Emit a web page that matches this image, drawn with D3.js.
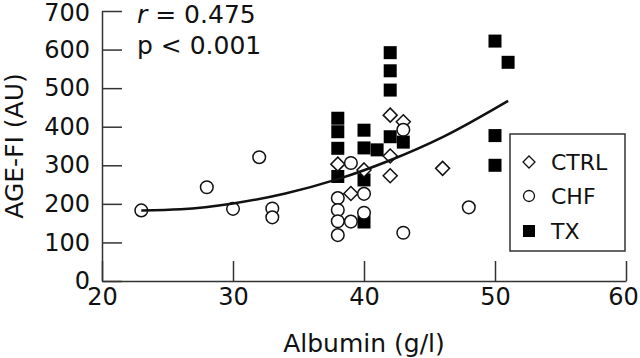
<!DOCTYPE html>
<meta charset="utf-8">
<style>
  body { margin: 0; background: #fff; }
  svg { font-family: "DejaVu Sans", sans-serif; }
  .axis path, .axis line { stroke: #333; stroke-width: 1.5px; }
  .axis text { font-size: 24px; fill: #111; font-family: "DejaVu Sans", sans-serif; }
  .title { font-size: 25px; fill: #111; }
  .fit { fill: none; stroke: #111; stroke-width: 2.5px; }
  .legend text { font-size: 22px; fill: #111; }
</style>
<script src="https://cdn.jsdelivr.net/npm/d3@7"></script>
<svg id="chart" width="640" height="358"></svg>
<script>
// values
var ctrlX = [38, 39, 40, 42, 42, 42, 43, 46];
var ctrlY = [303, 227, 288, 430, 324, 273, 413, 292];

var chfX = [23, 28, 30, 32, 33, 33, 38, 38, 38, 38, 39, 39, 40, 40, 43, 43, 48];
var chfY = [183, 243, 187, 321, 188, 165, 215, 184, 155, 119, 306, 154, 226, 177, 392, 125, 191];

var txX = [38, 38, 38, 38, 40, 40, 40, 40, 41, 42, 42, 42, 42, 43, 50, 50, 50, 51];
var txY = [422, 387, 344, 271, 391, 345, 262, 153, 340, 592, 545, 495, 374, 360, 622, 377, 300, 567];

// regression curve, read at a few points
var fitX = [23, 26, 30, 34, 38, 42, 46, 51];
var fitY = [183, 186, 201, 227, 264, 313, 373, 467];

var xTicks = [20, 30, 40, 50, 60];
var yTicks = [0, 100, 200, 300, 400, 500, 600, 700];
var groups = ["CTRL", "CHF", "TX"];

var svg = d3.select("#chart");
var x = d3.scaleLinear().domain([20, 60]).range([102, 626]);
var y = d3.scaleLinear().domain([0, 700]).range([281, 11]);

var xAxis = svg.append("g").attr("class", "axis")
  .attr("transform", "translate(0,281)")
  .call(d3.axisBottom(x).tickValues(xTicks).tickSizeInner(-20).tickSizeOuter(0).tickPadding(7));
// last label sits against the right edge
xAxis.selectAll(".tick text").filter(function(d) { return d === 60; }).attr("dx", -3);

var yAxis = svg.append("g").attr("class", "axis")
  .attr("transform", "translate(102,0)")
  .call(d3.axisLeft(y).tickValues(yTicks).tickSizeInner(-20).tickSizeOuter(0).tickPadding(12));
yAxis.selectAll(".tick text").filter(function(d) { return d === 700; }).attr("dy", "0.4em");

svg.append("text").attr("class", "title")
  .attr("x", 364).attr("y", 352).attr("text-anchor", "middle")
  .text("Albumin (g/l)");
svg.append("text").attr("class", "title")
  .attr("transform", "translate(23,146) rotate(-90)").attr("text-anchor", "middle")
  .text("AGE-FI (AU)");

var stat = svg.append("text").attr("class", "title").attr("x", 137).attr("y", 23);
stat.append("tspan").attr("font-style", "italic").text("r");
stat.append("tspan").text(" = 0.475");
svg.append("text").attr("class", "title").attr("x", 137).attr("y", 54).text("p < 0.001");

function zip(xs, ys) { return xs.map(function(v, i) { return [v, ys[i]]; }); }

var diamond = function(s) { return "M0," + (-s) + "L" + s + ",0L0," + s + "L" + (-s) + ",0Z"; };

// squares first, then diamonds, circles on top
svg.append("g").selectAll("rect").data(zip(txX, txY)).join("rect")
  .attr("x", function(d) { return x(d[0]) - 6.5; })
  .attr("y", function(d) { return y(d[1]) - 6.5; })
  .attr("width", 13).attr("height", 13).attr("fill", "#000");

svg.append("g").selectAll("path").data(zip(ctrlX, ctrlY)).join("path")
  .attr("d", diamond(7))
  .attr("transform", function(d) { return "translate(" + x(d[0]) + "," + y(d[1]) + ")"; })
  .attr("fill", "#fff").attr("stroke", "#111").attr("stroke-width", 1.5);

svg.append("g").selectAll("circle").data(zip(chfX, chfY)).join("circle")
  .attr("cx", function(d) { return x(d[0]); })
  .attr("cy", function(d) { return y(d[1]); })
  .attr("r", 6.3).attr("fill", "#fff").attr("stroke", "#111").attr("stroke-width", 1.5);

var line = d3.line().curve(d3.curveMonotoneX)
  .x(function(d) { return x(d[0]); })
  .y(function(d) { return y(d[1]); });
svg.append("path").datum(zip(fitX, fitY)).attr("class", "fit").attr("d", line);

// legend
var lg = svg.append("g").attr("class", "legend");
lg.append("rect").attr("x", 510).attr("y", 134).attr("width", 115).attr("height", 117)
  .attr("fill", "#fff").attr("stroke", "#333").attr("stroke-width", 1.5);
var rowY = [162, 196, 231];
groups.forEach(function(g, i) {
  var cy = rowY[i];
  if (g === "CTRL") {
    lg.append("path").attr("d", diamond(6)).attr("transform", "translate(529," + cy + ")")
      .attr("fill", "#fff").attr("stroke", "#111").attr("stroke-width", 1.3);
  } else if (g === "CHF") {
    lg.append("circle").attr("cx", 529).attr("cy", cy).attr("r", 5.5)
      .attr("fill", "#fff").attr("stroke", "#111").attr("stroke-width", 1.3);
  } else {
    lg.append("rect").attr("x", 523).attr("y", cy - 6).attr("width", 12).attr("height", 12).attr("fill", "#000");
  }
  lg.append("text").attr("x", 551).attr("y", cy + 8).text(g);
});
</script>
